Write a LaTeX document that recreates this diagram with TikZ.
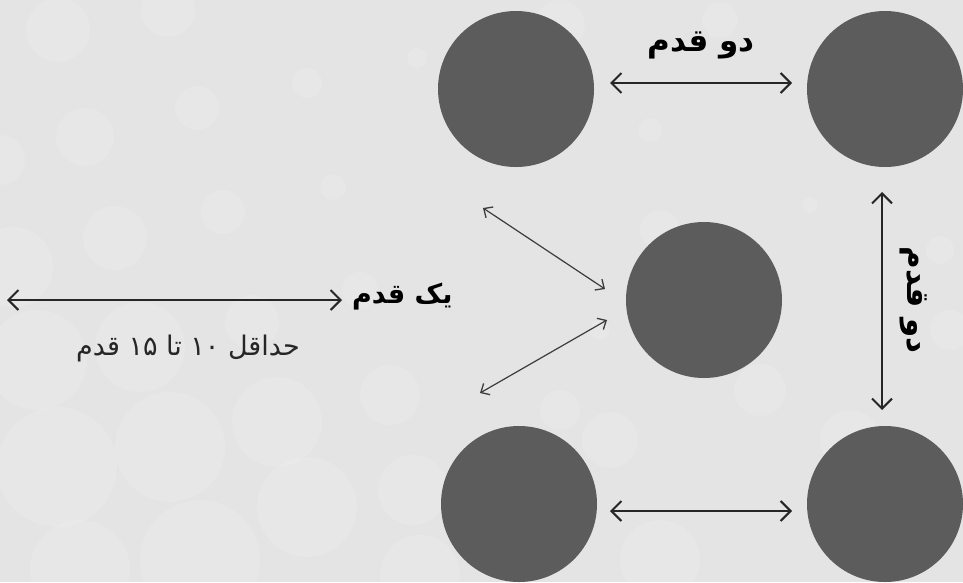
\documentclass[tikz,border=0pt]{standalone}
\usepackage{fontspec}
\newfontfamily\fa[Script=Arabic]{DejaVu Sans}
\TeXXeTstate=1
\usetikzlibrary{arrows.meta}
\definecolor{bg}{HTML}{E4E4E4}
\definecolor{disc}{HTML}{5C5C5C}
\definecolor{ink}{HTML}{262626}
\tikzset{
  disk/.style={circle, fill=disc, draw=none, minimum size=156pt, inner sep=0pt},
  bokeh/.style={fill=white, opacity=0.12, draw=none},
  bigarrow/.style={draw=ink, line width=2.3pt, {Straight Barb[length=10pt,width=20pt,line width=2pt]}-{Straight Barb[length=10pt,width=20pt,line width=2pt]}},
  thinarrow/.style={draw=ink!90, line width=1.2pt, {Straight Barb[length=7pt,width=13pt,line width=1.3pt]}-{Straight Barb[length=7pt,width=13pt,line width=1.3pt]}},
  lbl/.style={inner sep=0pt, text=black, font=\fa\bfseries\fontsize{31}{36}\selectfont},
  sublbl/.style={inner sep=0pt, text=ink, font=\fa\fontsize{27}{32}\selectfont}
}
\begin{document}
\begin{tikzpicture}[x=1pt,y=-1pt]
\fill[bg] (0,0) rectangle (963,582);
\useasboundingbox (0,0) rectangle (963,582);
% bokeh
\foreach \cx/\cy/\r in {58/30/32,168/10/27,417/58/10,307/83/15,197/108/22,85/137/29,0/160/25,333/187/13,223/212/22,115/238/32,13/267/40,360/290/18,252/322/27,140/347/45,37/360/50,390/395/30,277/422/45,170/447/55,57/467/60,413/490/35,307/507/50,200/560/60,80/570/50,420/575/40,
 560/25/25,650/130/12,660/230/20,810/205/8,950/330/20,560/410/20,610/440/28,760/390/26,850/440/30,660/560/40,720/20/18,940/250/14,600/330/10}
  \fill[bokeh] (\cx,\cy) circle[radius=\r];
% discs
\node[disk] (c1) at (516,89) {};
\node[disk] (c2) at (885,89) {};
\node[disk] (c3) at (704,300) {};
\node[disk] (c4) at (519,504) {};
\node[disk] (c5) at (885,504) {};
% arrow ends
\coordinate (t1) at (610,83);  \coordinate (t2) at (792,83);
\coordinate (r1) at (882,192); \coordinate (r2) at (882,410);
\coordinate (b1) at (610,511); \coordinate (b2) at (792,511);
\coordinate (l1) at (7,300);   \coordinate (l2) at (342,300);
\coordinate (d1) at (483,208); \coordinate (d2) at (605,289);
\coordinate (e1) at (607,320); \coordinate (e2) at (480,393);
\draw[bigarrow] (t1) -- (t2);
\draw[bigarrow] (r1) -- (r2);
\draw[bigarrow] (b1) -- (b2);
\draw[bigarrow] (l1) -- (l2);
\draw[thinarrow] (d1) -- (d2);
\draw[thinarrow] (e1) -- (e2);
% labels
\node[lbl] (lt) at (701,45) {\beginR دو قدم\endR};
\node[lbl, rotate=-90] (lr) at (914,300) {\beginR دو قدم\endR};
\node[lbl, font=\fa\bfseries\fontsize{27}{32}\selectfont, anchor=west] (ll) at (352,297) {\beginR یک قدم\endR};
\node[sublbl] (ls) at (188,348) {\beginR حداقل ۱۰ تا ۱۵ قدم\endR};
\end{tikzpicture}
\end{document}
